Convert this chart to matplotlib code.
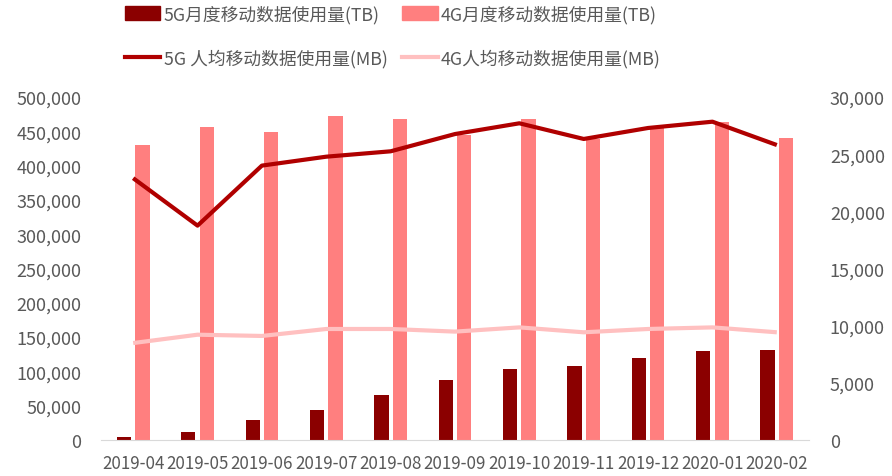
import matplotlib.pyplot as plt
import numpy as np
from matplotlib.ticker import FuncFormatter, MultipleLocator
from matplotlib.lines import Line2D
from matplotlib.patches import Patch

plt.rcParams['font.family'] = ['Noto Sans CJK SC', 'DejaVu Sans']

# data
months = ["2019-04", "2019-05", "2019-06", "2019-07", "2019-08", "2019-09",
          "2019-10", "2019-11", "2019-12", "2020-01", "2020-02"]
tb_5g = [4000, 12000, 29600, 43300, 65600, 87000, 103500, 107400, 120000, 130000, 130500]
tb_4g = [430000, 456700, 448500, 472000, 468000, 445000, 468000, 439000, 456000, 463000, 440000]
mb_5g = [22900, 18750, 24000, 24780, 25250, 26760, 27700, 26330, 27290, 27840, 25800]
mb_4g = [8480, 9210, 9100, 9710, 9710, 9480, 9850, 9420, 9710, 9850, 9420]

c_5g_bar = "#8B0000"
c_4g_bar = "#FF7F7F"
c_5g_line = "#B00000"
c_4g_line = "#FFC0C0"
txt = "#595959"

fig = plt.figure(figsize=(8.92, 4.77), dpi=100)
ax = fig.add_axes([101/892, 1-441/477, (809-101)/892, (441-98)/477])
ax2 = ax.twinx()

x = np.arange(len(months))
w = 0.222
ax.bar(x - 0.143, tb_5g, w, color=c_5g_bar, zorder=2)
ax.bar(x + 0.143, tb_4g, w, color=c_4g_bar, zorder=2)
ax2.plot(x, mb_4g, color=c_4g_line, lw=3, solid_capstyle="butt")
ax2.plot(x, mb_5g, color=c_5g_line, lw=3, solid_capstyle="butt")

ax.set_xlim(-0.5, len(months) - 0.5)
ax.set_ylim(0, 500000)
ax2.set_ylim(0, 30000)
ax.yaxis.set_major_locator(MultipleLocator(50000))
ax2.yaxis.set_major_locator(MultipleLocator(5000))
fmt = FuncFormatter(lambda v, p: f"{int(v):,}")
ax.yaxis.set_major_formatter(fmt)
ax2.yaxis.set_major_formatter(fmt)
ax.set_xticks(x)
ax.set_xticklabels(months)

for a in (ax, ax2):
    for s in a.spines.values():
        s.set_visible(False)
    a.tick_params(length=0, colors=txt, labelsize=13)
ax.spines["bottom"].set_visible(True)
ax.spines["bottom"].set_color("#D9D9D9")
ax.tick_params(axis="y", pad=14)
ax2.tick_params(axis="y", pad=15)
ax.tick_params(axis="x", pad=10, labelsize=12.2)

handles = [Patch(color=c_5g_bar), Line2D([], [], color=c_5g_line, lw=3),
           Patch(color=c_4g_bar), Line2D([], [], color=c_4g_line, lw=3)]
labels = ["5G月度移动数据使用量(TB)", "5G 人均移动数据使用量(MB)",
          "4G月度移动数据使用量(TB)", "4G人均移动数据使用量(MB)"]
fig.legend(handles, labels, ncol=2, loc="upper left", bbox_to_anchor=(123/892, 1 - 4/477),
           frameon=False, fontsize=12.8, labelcolor=txt, handlelength=2.0,
           handleheight=0.8, handletextpad=0.2, columnspacing=0.8,
           labelspacing=1.45, borderpad=0.1, borderaxespad=0)

fig.savefig("out.png", dpi=100)
